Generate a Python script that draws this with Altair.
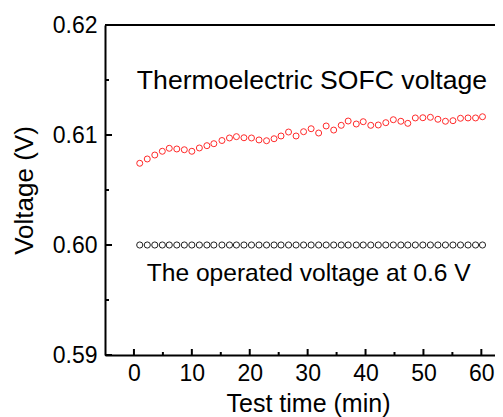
import altair as alt
import pandas as pd

# ---- data ----
time_min = [1.0, 2.3, 3.6, 4.9, 6.1, 7.4, 8.7, 10.0, 11.3, 12.6,
            13.8, 15.2, 16.5, 17.7, 19.0, 20.3, 21.6, 22.9, 24.2, 25.4,
            26.7, 28.0, 29.3, 30.6, 31.9, 33.2, 34.5, 35.8, 37.0, 38.4,
            39.6, 40.9, 42.2, 43.5, 44.8, 46.1, 47.3, 48.6, 49.9, 51.2,
            52.5, 53.8, 55.1, 56.4, 57.7, 59.0, 60.2]
sofc_voltage = [0.60743, 0.60782, 0.60818, 0.60852, 0.60879, 0.60873, 0.60866, 0.60852, 0.60882, 0.60903,
                0.60921, 0.60950, 0.60973, 0.60985, 0.60975, 0.60973, 0.60955, 0.60948, 0.60966, 0.60991,
                0.61027, 0.60991, 0.61030, 0.61057, 0.61018, 0.61082, 0.61045, 0.61088, 0.61127, 0.61100,
                0.61121, 0.61088, 0.61091, 0.61112, 0.61139, 0.61125, 0.61106, 0.61155, 0.61157, 0.61161,
                0.61143, 0.61125, 0.61130, 0.61152, 0.61155, 0.61155, 0.61166]
operated_voltage = [0.600, 0.600, 0.600, 0.600, 0.600, 0.600, 0.600, 0.600, 0.600, 0.600,
                    0.600, 0.600, 0.600, 0.600, 0.600, 0.600, 0.600, 0.600, 0.600, 0.600,
                    0.600, 0.600, 0.600, 0.600, 0.600, 0.600, 0.600, 0.600, 0.600, 0.600,
                    0.600, 0.600, 0.600, 0.600, 0.600, 0.600, 0.600, 0.600, 0.600, 0.600,
                    0.600, 0.600, 0.600, 0.600, 0.600, 0.600, 0.600]

y_major = [0.59, 0.60, 0.61, 0.62]
y_minor = [0.595, 0.605, 0.615]
x_major = [0, 10, 20, 30, 40, 50, 60]
x_minor = [5, 15, 25, 35, 45, 55]

labels = ["Thermoelectric SOFC voltage", "The operated voltage at 0.6 V"]
label_t = [0.5, 2.2]
label_v = [0.61491, 0.59736]
label_size = [26.6, 24.6]

FONT = "Liberation Sans"
W, H = 390, 330
X_MIN, X_MAX = -5, 62.36
Y_MIN, Y_MAX = 0.59, 0.62

df_red = pd.DataFrame({"t": time_min, "v": sofc_voltage})
df_blk = pd.DataFrame({"t": time_min, "v": operated_voltage})
df_lab = pd.DataFrame({"t": label_t, "v": label_v, "txt": labels, "fs": label_size})

xs = alt.Scale(domain=[X_MIN, X_MAX], nice=False, zero=False)
ys = alt.Scale(domain=[Y_MIN, Y_MAX], nice=False, zero=False)

x_axis = alt.Axis(values=x_major, ticks=False, tickSize=0, grid=False,
                  domainColor="black", domainWidth=2,
                  labelFont=FONT, labelFontSize=23, labelColor="black",
                  labelPadding=7, labelBaseline="top",
                  title="Test time (min)", titleFont=FONT, titleFontSize=25,
                  titleFontWeight="normal", titleColor="black",
                  titleBaseline="middle", titleY=48, titleX=203)
y_axis = alt.Axis(values=y_major, format=".2f", ticks=False, tickSize=0, grid=False,
                  domainColor="black", domainWidth=2,
                  labelFont=FONT, labelFontSize=23, labelColor="black",
                  labelPadding=8, labelBaseline="middle",
                  title="Voltage (V)", titleFont=FONT, titleFontSize=26,
                  titleFontWeight="normal", titleColor="black",
                  titleAngle=270, titleBaseline="middle", titleAlign="center",
                  titleX=-81, titleY=H / 2)

red = alt.Chart(df_red).mark_point(shape="circle", filled=False, color="#ff2a2a",
                                   size=36, strokeWidth=1, opacity=1).encode(
    x=alt.X("t:Q", scale=xs, axis=x_axis),
    y=alt.Y("v:Q", scale=ys, axis=y_axis),
)
blk = alt.Chart(df_blk).mark_point(shape="circle", filled=False, color="#222222",
                                   size=38, strokeWidth=1, opacity=1).encode(
    x=alt.X("t:Q", scale=xs), y=alt.Y("v:Q", scale=ys))

txt = alt.Chart(df_lab).mark_text(align="left", baseline="middle", font=FONT,
                                  color="black").encode(
    x=alt.X("t:Q", scale=xs), y=alt.Y("v:Q", scale=ys), text="txt:N",
    size=alt.Size("fs:Q", scale=None, legend=None))

# inward ticks (lengths in data units of ~7/4 px and ~6/3 px)
px_x = (X_MAX - X_MIN) / W
px_y = (Y_MAX - Y_MIN) / H
ymaj = alt.Chart(pd.DataFrame({"v": y_major})).mark_rule(color="black", strokeWidth=2).encode(
    y=alt.Y("v:Q", scale=ys), x=alt.datum(X_MIN, scale=xs), x2=alt.datum(X_MIN + 7 * px_x))
ymin = alt.Chart(pd.DataFrame({"v": y_minor})).mark_rule(color="black", strokeWidth=2).encode(
    y=alt.Y("v:Q", scale=ys), x=alt.datum(X_MIN, scale=xs), x2=alt.datum(X_MIN + 4 * px_x))
xmaj = alt.Chart(pd.DataFrame({"t": x_major})).mark_rule(color="black", strokeWidth=2).encode(
    x=alt.X("t:Q", scale=xs), y=alt.datum(Y_MIN, scale=ys), y2=alt.datum(Y_MIN + 6 * px_y))
xmin = alt.Chart(pd.DataFrame({"t": x_minor})).mark_rule(color="black", strokeWidth=2).encode(
    x=alt.X("t:Q", scale=xs), y=alt.datum(Y_MIN, scale=ys), y2=alt.datum(Y_MIN + 3 * px_y))
top = alt.Chart(pd.DataFrame({"v": [Y_MAX]})).mark_rule(color="black", strokeWidth=2).encode(
    y=alt.Y("v:Q", scale=ys), x=alt.datum(X_MIN, scale=xs), x2=alt.datum(X_MAX))

chart = alt.layer(red, blk, txt, ymaj, ymin, xmaj, xmin, top).properties(
    width=W, height=H,
    autosize=alt.AutoSizeParams(type="none"),
    padding={"left": 97, "top": 17, "right": 0, "bottom": 62},
).configure_view(stroke=None).configure(background="white")

chart.save("out.html", embed_options={"renderer": "svg", "actions": False})
